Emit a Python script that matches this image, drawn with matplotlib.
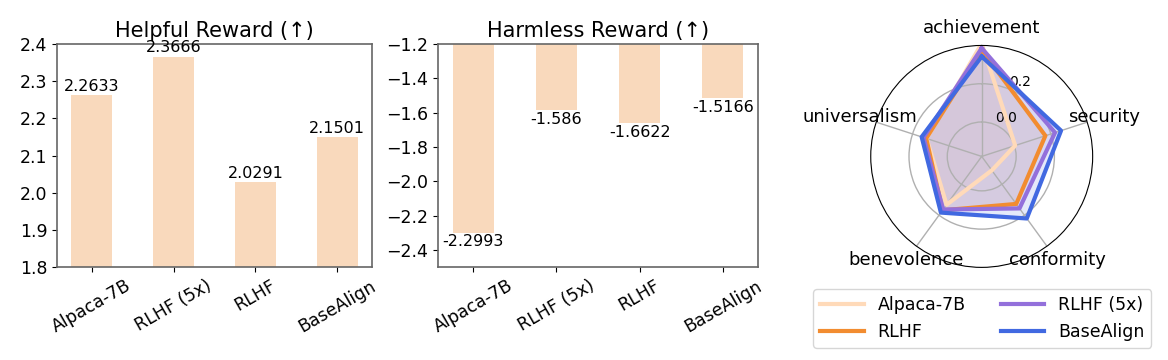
import numpy as np
import matplotlib
matplotlib.use("Agg")
import matplotlib.pyplot as plt

models = ["Alpaca-7B", "RLHF (5x)", "RLHF", "BaseAlign"]
helpful = [2.2633, 2.3666, 2.0291, 2.1501]
harmless = [-2.2993, -1.586, -1.6622, -1.5166]

# radar values
values = ["achievement", "security", "conformity", "benevolence", "universalism"]
radar_alpaca = [0.41, 0.004, -0.09, 0.132, 0.123]
radar_rlhf = [0.375, 0.17, 0.127, 0.168, 0.125]
radar_rlhf5x = [0.386, 0.223, 0.156, 0.163, 0.14]
radar_basealign = [0.3425, 0.256, 0.221, 0.183, 0.15]

bar_color = "#F9D9BC"
spine_color = "#666666"

fig = plt.figure(figsize=(11.68, 3.6), dpi=100)

ax1 = fig.add_axes([0.0488, 0.2583, 0.2697, 0.619])
ax2 = fig.add_axes([0.375, 0.2583, 0.274, 0.619])

for ax, vals, title, lim in [
    (ax1, helpful, "Helpful Reward (\u2191)", (1.8, 2.4)),
    (ax2, harmless, "Harmless Reward (\u2191)", (-2.5, -1.2)),
]:
    x = np.arange(len(models))
    bars = ax.bar(x, vals, width=0.5, color=bar_color)
    ax.bar_label(bars, fontsize=11.5, padding=1)
    ax.set_ylim(*lim)
    ax.set_xticks(x)
    ax.set_xticklabels(models, rotation=30, fontsize=12.5)
    ax.tick_params(axis="y", labelsize=12.5)
    ax.set_title(title, fontsize=15, pad=5)
    for s in ax.spines.values():
        s.set_color(spine_color)
        s.set_linewidth(1.2)

ax2.set_yticks([-2.4, -2.2, -2.0, -1.8, -1.6, -1.4, -1.2])

# radar chart
ax3 = fig.add_axes([0.7455, 0.2570, 0.190, 0.617], projection="polar")
n = len(values)
angles = np.linspace(0, 2 * np.pi, n, endpoint=False)
ax3.set_theta_offset(np.pi / 2)
ax3.set_theta_direction(-1)

series = [
    ("Alpaca-7B", radar_alpaca, "#FFDAB9"),
    ("RLHF", radar_rlhf, "#F28C30"),
    ("RLHF (5x)", radar_rlhf5x, "#9370DB"),
    ("BaseAlign", radar_basealign, "#4169E1"),
]
for name, r, c in series:
    rr = np.concatenate([r, r[:1]])
    aa = np.concatenate([angles, angles[:1]])
    ax3.plot(aa, rr, color=c, linewidth=3, label=name)
    ax3.fill(aa, rr, color=c, alpha=0.14)

ax3.set_xticks(angles)
ax3.set_xticklabels(values, fontsize=13)
ax3.set_ylim(-0.18, 0.4)
ax3.set_yticks([0.0, 0.2])
ax3.set_yticklabels(["0.0", "0.2"], fontsize=10)
ax3.grid(color="#b0b0b0", linewidth=1)
ax3.tick_params(axis="x", pad=2)

fig.legend(loc="center", bbox_to_anchor=(0.841, 0.115), ncol=2, fontsize=12.5,
           columnspacing=2.0, handlelength=2.5)

fig.savefig("out.png", dpi=100)
